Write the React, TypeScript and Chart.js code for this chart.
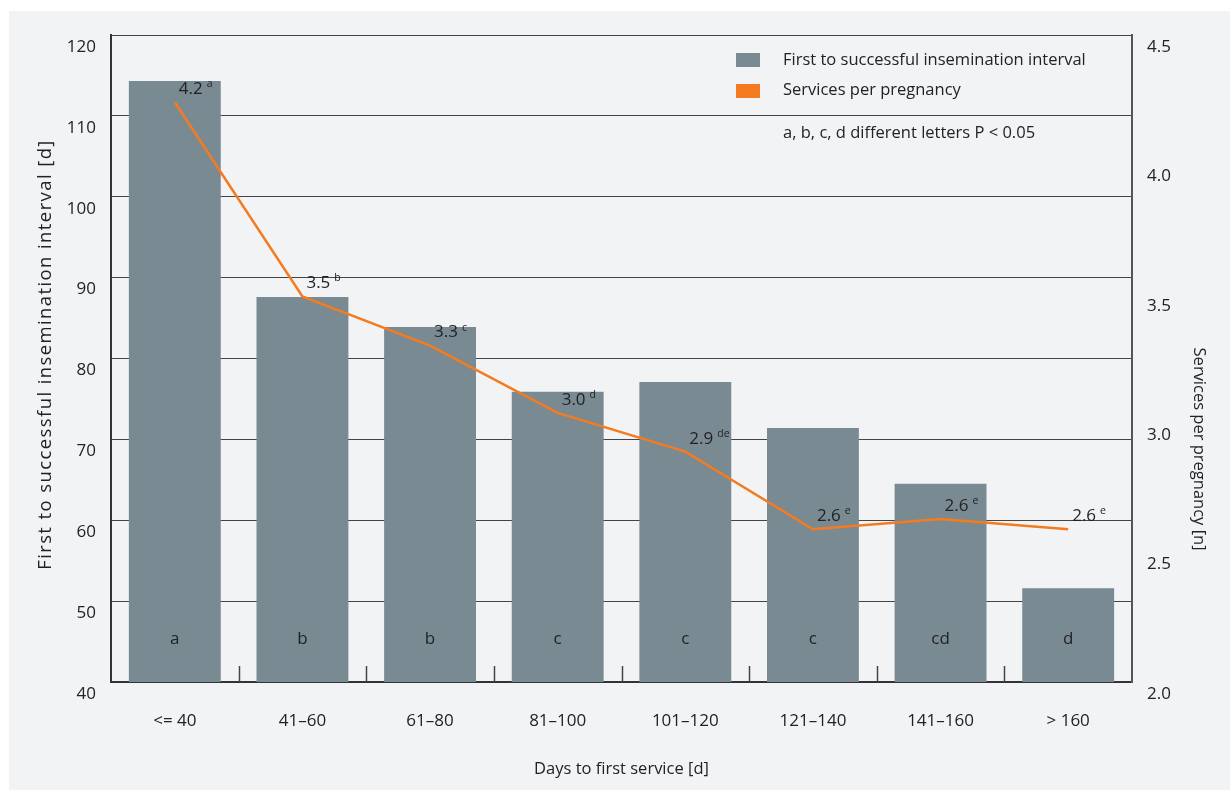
import { useEffect, useRef } from "react";
import { Chart, registerables } from "chart.js";

Chart.register(...registerables);

const categories = ["<= 40", "41–60", "61–80", "81–100", "101–120", "121–140", "141–160", "> 160"];
const barSeriesName = "First to successful insemination interval";
const lineSeriesName = "Services per pregnancy";
const intervalDays = [114.3, 87.6, 83.9, 75.9, 77.1, 71.4, 64.5, 51.6];
const intervalLetters = ["a", "b", "b", "c", "c", "c", "cd", "d"];
const servicesPerPregnancy = [4.24, 3.49, 3.3, 3.04, 2.89, 2.59, 2.63, 2.59];
const serviceLabels = ["4.2", "3.5", "3.3", "3.0", "2.9", "2.6", "2.6", "2.6"];
const serviceLetters = ["a", "b", "c", "d", "de", "e", "e", "e"];
const leftAxisTitle = "First to successful insemination interval [d]";
const rightAxisTitle = "Services per pregnancy [n]";
const xAxisTitle = "Days to first service [d]";
const noteText = "a, b, c, d different letters P < 0.05";
const leftRange = [40, 120, 10];
const rightRange = [2.0, 4.5, 0.5];

const FONT = "'Open Sans', 'Noto Sans', sans-serif";
const TEXT = "#222222";
const BAR = "#7a8a92";
const ORANGE = "#f47b20";

const overlay = {
  id: "overlay",
  beforeDatasetsDraw(chart: any) {
    const { ctx, chartArea } = chart;
    const xs = chart.scales.x;
    ctx.save();
    ctx.strokeStyle = "#444";
    ctx.lineWidth = 1.5;
    for (let i = 1; i < categories.length; i++) {
      const px = Math.round((xs.getPixelForValue(i - 1) + xs.getPixelForValue(i)) / 2) + 0.5;
      ctx.beginPath();
      ctx.moveTo(px, chartArea.bottom);
      ctx.lineTo(px, chartArea.bottom - 16);
      ctx.stroke();
    }
    ctx.restore();
  },
  afterDatasetsDraw(chart: any) {
    const { ctx, chartArea } = chart;
    const xs = chart.scales.x;
    ctx.save();
    ctx.fillStyle = TEXT;
    // letters inside bars
    ctx.font = `17px ${FONT}`;
    ctx.textAlign = "center";
    ctx.textBaseline = "middle";
    intervalLetters.forEach((l, i) => {
      ctx.fillText(l, xs.getPixelForValue(i), chartArea.bottom - 43);
    });
    // value labels on line
    const meta = chart.getDatasetMeta(0);
    meta.data.forEach((pt: any, i: number) => {
      const bx = xs.getPixelForValue(i);
      const tx = bx + 4;
      const ty = pt.y - 13;
      ctx.font = `17px ${FONT}`;
      ctx.textAlign = "left";
      ctx.textBaseline = "middle";
      ctx.fillText(serviceLabels[i], tx, ty);
      const w = ctx.measureText(serviceLabels[i]).width;
      ctx.font = `10.5px ${FONT}`;
      ctx.fillText(serviceLetters[i], tx + w + 4, ty - 5);
    });
    // legend
    const lx = chartArea.right - 396;
    const ly = chartArea.top;
    ctx.fillStyle = BAR;
    ctx.fillRect(lx, ly + 18, 24, 14);
    ctx.fillStyle = ORANGE;
    ctx.fillRect(lx, ly + 49, 24, 14);
    ctx.fillStyle = TEXT;
    ctx.font = `16.5px ${FONT}`;
    ctx.textAlign = "left";
    ctx.textBaseline = "middle";
    ctx.fillText(barSeriesName, lx + 47, ly + 25);
    ctx.fillText(lineSeriesName, lx + 47, ly + 55);
    ctx.fillText(noteText, lx + 47, ly + 98);
    ctx.restore();

    // right axis title
    ctx.save();
    ctx.fillStyle = TEXT;
    ctx.font = `16.5px ${FONT}`;
    ctx.textAlign = "center";
    ctx.textBaseline = "middle";
    ctx.translate(chartArea.right + 67, chartArea.top + (chartArea.bottom - chartArea.top) * 0.64);
    ctx.rotate(Math.PI / 2);
    ctx.fillText(rightAxisTitle, 0, 0);
    ctx.restore();

    // left axis title
    ctx.save();
    ctx.fillStyle = TEXT;
    ctx.font = `18.5px ${FONT}`;
    (ctx as any).letterSpacing = "1.4px";
    ctx.textAlign = "center";
    ctx.textBaseline = "middle";
    ctx.translate(chartArea.left - 65, (chartArea.top + chartArea.bottom) / 2 - 4);
    ctx.rotate(-Math.PI / 2);
    ctx.fillText(leftAxisTitle, 0, 0);
    ctx.restore();
  },
};

export default function App() {
  const ref = useRef<HTMLCanvasElement | null>(null);
  useEffect(() => {
    if (!ref.current) return;
    Chart.defaults.font.family = FONT;
    Chart.defaults.color = TEXT;
    const chart = new Chart(ref.current, {
      type: "bar",
      data: {
        labels: categories,
        datasets: [
          {
            type: "line",
            label: lineSeriesName,
            data: servicesPerPregnancy,
            yAxisID: "y1",
            borderColor: ORANGE,
            borderWidth: 2.5,
            pointRadius: 0,
            tension: 0,
            order: 0,
          } as any,
          {
            type: "bar",
            label: barSeriesName,
            data: intervalDays,
            yAxisID: "y",
            backgroundColor: BAR,
            barPercentage: 0.72,
            categoryPercentage: 1,
            order: 1,
          },
        ],
      },
      options: {
        responsive: false,
        animation: false,
        layout: { padding: { top: 35, left: 0, right: 0, bottom: 0 } },
        plugins: { legend: { display: false }, tooltip: { enabled: false } },
        scales: {
          x: {
            grid: { display: false, drawTicks: false },
            border: { display: true, color: "#333", width: 2 },
            ticks: { color: TEXT, font: { size: 17, family: FONT }, padding: 29 },
            title: {
              display: true,
              text: xAxisTitle,
              color: TEXT,
              font: { size: 16.5, family: FONT },
              padding: { top: 0, bottom: 11 },
            },
            afterFit: (s: any) => {
              s.height = 108;
            },
          },
          y: {
            position: "left",
            min: leftRange[0],
            max: leftRange[1],
            ticks: { stepSize: leftRange[2], padding: 15, labelOffset: 12, color: TEXT, font: { size: 17, family: FONT } },
            grid: { color: "#444", lineWidth: 1, drawTicks: false },
            border: { display: true, color: "#333", width: 2 },
            afterFit: (s: any) => {
              s.width = 111;
            },
          },
          y1: {
            position: "right",
            min: rightRange[0],
            max: rightRange[1],
            ticks: {
              stepSize: rightRange[2],
              padding: 15,
              labelOffset: 12,
              color: TEXT,
              font: { size: 17, family: FONT },
              callback: (v: any) => Number(v).toFixed(1),
            },
            grid: { drawOnChartArea: false, drawTicks: false },
            border: { display: true, color: "#555", width: 2 },
            afterFit: (s: any) => {
              s.width = 98;
            },
          },
        },
      } as any,
      plugins: [overlay],
    });
    return () => chart.destroy();
  }, []);

  return (
    <div style={{ position: "fixed", left: 0, top: 0, width: 1230, height: 790, background: "#ffffff" }}>
      <div style={{ position: "absolute", left: 9, top: 11, right: 0, bottom: 0, background: "#f2f3f5" }} />
      <canvas
        ref={ref}
        width={1230}
        height={790}
        style={{ position: "absolute", left: 0, top: 0, width: 1230, height: 790 }}
      />
    </div>
  );
}
